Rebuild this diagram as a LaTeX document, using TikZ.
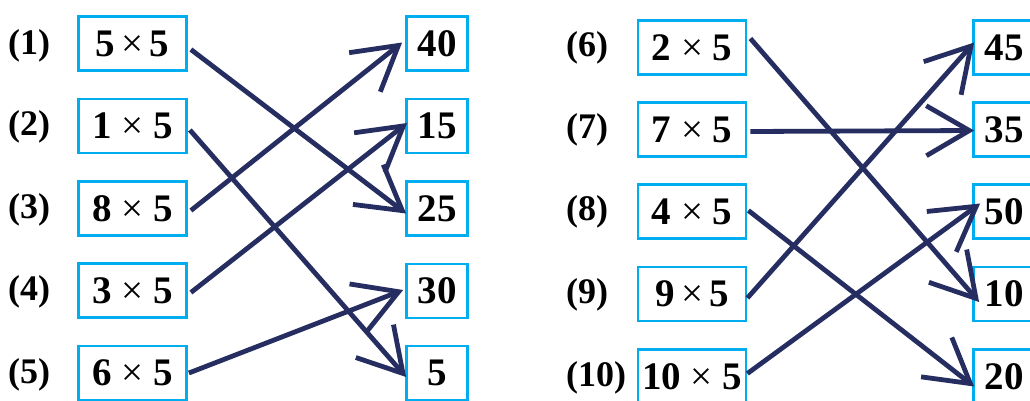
\documentclass[tikz,border=0pt]{standalone}
\usepackage{fontspec}
\setmainfont{Liberation Serif}
\usepackage{tikz}
\usetikzlibrary{arrows.meta}
\definecolor{boxcyan}{RGB}{0,174,239}
\definecolor{arrownavy}{RGB}{38,46,97}
\newcommand{\tms}{{\mdseries ×}}

\begin{document}
\begin{tikzpicture}[x=1pt,y=-1pt,
    qbox/.style={draw=boxcyan, line width=2.8pt, minimum width=108pt, minimum height=54pt, inner sep=0pt, font=\fontsize{39}{40}\selectfont\bfseries},
    abox/.style={qbox, minimum width=61pt},
    num/.style={anchor=west, inner sep=0pt, font=\fontsize{36}{40}\selectfont\bfseries},
    pairline/.style={->, draw=arrownavy, line width=4.8pt, line join=miter},
    >={Straight Barb[length=43pt,width=50pt]}]
    \useasboundingbox (0,0) rectangle (1030,401);
    % left half
    \node[num] (n1) at (8,46) {(1)};
    \node[num] (n2) at (8,127) {(2)};
    \node[num] (n3) at (8,210) {(3)};
    \node[num] (n4) at (8,292) {(4)};
    \node[num] (n5) at (8,375) {(5)};
    \node[qbox] (q1) at (132.5,43.5) {5\,\tms\,5};
    \node[qbox] (q2) at (132.5,126) {1 \tms\ 5};
    \node[qbox] (q3) at (132.5,208.5) {8 \tms\ 5};
    \node[qbox] (q4) at (132.5,290.5) {3 \tms\ 5};
    \node[qbox] (q5) at (132.5,373) {6 \tms\ 5};
    \node[abox] (a40) at (437,43.5) {40};
    \node[abox] (a15) at (437,126) {15};
    \node[abox] (a25) at (437,208.5) {25};
    \node[abox] (a30) at (437,291) {30};
    \node[abox] (a5) at (437,373) {5};
    \draw[pairline] ([shift={(3,6)}]q1.east) -- ([shift={(1,5)}]a25.west);
    \draw[pairline] ([shift={(2,4)}]q2.east) -- ([shift={(1,4)}]a5.west);
    \draw[pairline] ([shift={(3,2)}]q3.east) -- ([shift={(-3,-1)}]a40.west);
    \draw[pairline] ([shift={(3,2)}]q4.east) -- ([shift={(2,-3)}]a15.west);
    \draw[pairline] ([shift={(1,0)}]q5.east) -- ([shift={(-2,-1)}]a30.west);
    % right half
    \node[num] (n6) at (566,48) {(6)};
    \node[num] (n7) at (566,130) {(7)};
    \node[num] (n8) at (566,212) {(8)};
    \node[num] (n9) at (566,295) {(9)};
    \node[num] (n10) at (566,378) {(10)};
    \node[qbox] (q6) at (692,47.5) {2 \tms\ 5};
    \node[qbox] (q7) at (692,129.5) {7 \tms\ 5};
    \node[qbox] (q8) at (692,211.5) {4 \tms\ 5};
    \node[qbox] (q9) at (692,294) {9\,\tms\,5};
    \node[qbox] (q10) at (692,376.5) {10 \tms\ 5};
    \node[abox] (a45) at (1004,47.5) {45};
    \node[abox] (a35) at (1004,129.5) {35};
    \node[abox] (a50) at (1004,211.5) {50};
    \node[abox] (a10) at (1004,294) {10};
    \node[abox] (a20) at (1004,376.5) {20};
    \draw[pairline] ([shift={(3,-9)}]q6.east) -- ([shift={(7,8)}]a10.west);
    \draw[pairline] ([shift={(3,2)}]q7.east) -- ([shift={(2,1)}]a35.west);
    \draw[pairline] ([shift={(1,-1)}]q8.east) -- ([shift={(2,10)}]a20.west);
    \draw[pairline] ([shift={(0,4)}]q9.east) -- ([shift={(2,-5)}]a45.west);
    \draw[pairline] ([shift={(0,-3)}]q10.east) -- ([shift={(8,-8)}]a50.west);
\end{tikzpicture}
\end{document}
